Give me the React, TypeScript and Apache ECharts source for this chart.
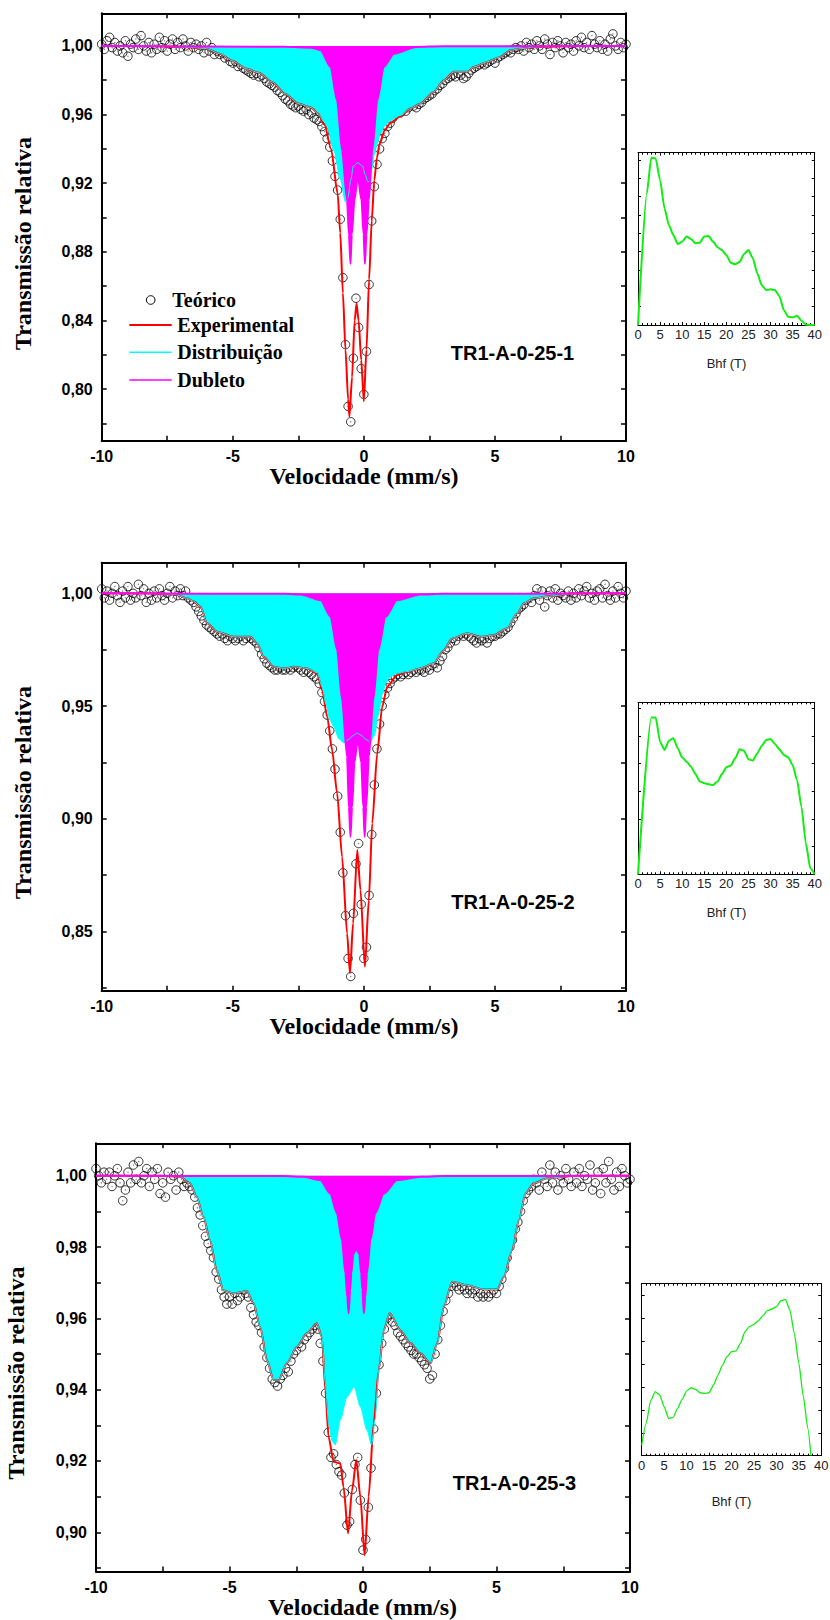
import React, { useEffect, useRef } from 'react';
import * as echarts from 'echarts';

// ---------------- data ----------------
// velocity channels of the folded spectra (mm/s)
const velStart = -10;
const velStep = 0.1;

// Panel 1 (TR1-A-0-25-1) measured points, one value per channel
const teorico1 = [
  1.001, 0.998, 1.003, 1.005, 0.999, 1.002, 0.997, 1.000, 0.996, 1.003,
  0.994, 1.001, 0.999, 1.004, 0.998, 1.006, 1.000, 0.997, 1.002, 0.996,
  1.001, 0.998, 1.005, 0.999, 1.003, 0.997, 1.001, 1.004, 0.998, 1.002,
  0.999, 1.004, 1.000, 0.997, 1.002, 0.999, 1.001, 0.998, 1.000, 0.996,
  1.002, 0.997, 0.999, 0.995, 0.997, 0.995, 0.996, 0.993, 0.994, 0.991,
  0.990, 0.991, 0.988, 0.989, 0.987, 0.986, 0.985, 0.984, 0.983, 0.984,
  0.982, 0.983, 0.981, 0.979, 0.978, 0.977, 0.976, 0.974, 0.973, 0.971,
  0.969, 0.968, 0.966, 0.965, 0.964, 0.965, 0.963, 0.962, 0.963, 0.960,
  0.961, 0.958, 0.957, 0.956, 0.953, 0.950, 0.946, 0.941, 0.933, 0.924,
  0.916, 0.899, 0.865, 0.826, 0.790, 0.781, 0.818, 0.853, 0.836, 0.812,
  0.797, 0.822, 0.861, 0.898, 0.918, 0.931, 0.940, 0.946, 0.949, 0.953,
  0.955, 0.958, 0.960, 0.962, 0.961, 0.963, 0.962, 0.964, 0.966, 0.965,
  0.964, 0.966, 0.967, 0.969, 0.970, 0.971, 0.972, 0.974, 0.975, 0.977,
  0.978, 0.980, 0.981, 0.982, 0.983, 0.982, 0.984, 0.983, 0.981, 0.982,
  0.984, 0.986, 0.987, 0.988, 0.989, 0.990, 0.989, 0.990, 0.991, 0.992,
  0.990, 0.993, 0.994, 0.995, 0.996, 0.997, 0.996, 0.998, 0.999, 0.998,
  1.000, 0.997, 1.002, 0.999, 1.001, 0.998, 1.003, 1.000, 0.998, 1.004,
  1.001, 0.995, 1.002, 0.999, 1.003, 1.000, 0.996, 1.002, 0.999, 1.001,
  0.997, 1.003, 1.000, 1.005, 0.999, 1.002, 0.998, 1.006, 1.001, 0.999,
  1.003, 0.998, 1.001, 0.997, 1.004, 1.007, 1.000, 0.998, 1.002, 0.999,
  1.001,
];
const experimental1: [number, number][] = [
  [-10, 1], [-8, 1], [-7, 0.9994], [-6.5, 0.999], [-6, 0.9984], [-5.5, 0.9955], [-5, 0.9913],
  [-4.5, 0.9868], [-4, 0.9843], [-3.5, 0.979], [-3, 0.972], [-2.5, 0.9664], [-2, 0.964],
  [-1.75, 0.9606], [-1.5, 0.954], [-1.25, 0.94], [-1.0, 0.914], [-0.9, 0.891], [-0.8, 0.856],
  [-0.7, 0.823], [-0.6, 0.794], [-0.55, 0.784], [-0.45, 0.807], [-0.35, 0.84], [-0.28, 0.85],
  [-0.2, 0.84], [-0.1, 0.817], [0, 0.793], [0.1, 0.823], [0.2, 0.864], [0.3, 0.898], [0.4, 0.922],
  [0.5, 0.935], [0.6, 0.943], [0.8, 0.951], [1.0, 0.955], [1.4, 0.959], [1.78, 0.9635],
  [2.16, 0.9664], [2.67, 0.9732], [3.05, 0.98], [3.44, 0.9849], [3.94, 0.9849], [4.2, 0.9878],
  [4.7, 0.9907], [5.2, 0.9936], [5.6, 0.9975], [6.0, 0.9984], [6.5, 0.9994], [8, 1], [10, 1],
];
const distribuicao1: [number, number][] = [
  [-10, 1], [-8, 1], [-7, 0.9994], [-6.5, 0.999], [-6, 0.9984], [-5.5, 0.9955], [-5, 0.9913],
  [-4.5, 0.9868], [-4, 0.9843], [-3.5, 0.979], [-3, 0.972], [-2.5, 0.9664], [-2, 0.964],
  [-1.75, 0.9606], [-1.5, 0.9555], [-1.4, 0.953], [-1.15, 0.939], [-0.89, 0.922], [-0.7, 0.909],
  [-0.6, 0.912], [-0.5, 0.922], [-0.4, 0.93], [-0.23, 0.932], [-0.05, 0.93], [0.05, 0.925],
  [0.15, 0.921], [0.22, 0.921], [0.3, 0.928], [0.4, 0.937], [0.5, 0.943], [0.64, 0.949],
  [0.8, 0.9535], [1.0, 0.9565], [1.4, 0.9595], [1.78, 0.9635], [2.16, 0.9664], [2.67, 0.9732],
  [3.05, 0.98], [3.44, 0.9849], [3.94, 0.9849], [4.2, 0.9878], [4.7, 0.9907], [5.2, 0.9936],
  [5.6, 0.9975], [6.0, 0.9984], [6.5, 0.9994], [8, 1], [10, 1],
];
const dubleto1: [number, number][] = [
  [-10, 1], [-3, 0.9995], [-2, 0.999], [-1.65, 0.9975], [-1.27, 0.9878], [-1.02, 0.968],
  [-0.83, 0.939], [-0.64, 0.91], [-0.57, 0.89], [-0.51, 0.873], [-0.46, 0.89], [-0.36, 0.91],
  [-0.23, 0.924], [-0.09, 0.91], [-0.01, 0.89], [0.04, 0.873], [0.1, 0.89], [0.19, 0.91],
  [0.32, 0.939], [0.51, 0.968], [0.76, 0.9878], [1.15, 0.9955], [2.0, 0.9994], [3, 0.9998], [10, 1],
];

// Panel 2 (TR1-A-0-25-2)
const teorico2 = [
  1.002, 0.998, 1.001, 0.997, 1.000, 1.003, 0.999, 0.996, 1.001, 0.998,
  1.003, 0.997, 1.000, 0.998, 1.004, 0.999, 1.002, 0.996, 1.000, 0.997,
  1.001, 0.998, 1.002, 0.999, 0.997, 1.000, 1.003, 0.998, 1.001, 0.999,
  1.002, 0.999, 1.001, 0.998, 0.997, 0.996, 0.994, 0.992, 0.990, 0.988,
  0.986, 0.985, 0.984, 0.983, 0.982, 0.981, 0.982, 0.980, 0.979, 0.981,
  0.980, 0.979, 0.980, 0.981, 0.979, 0.980, 0.981, 0.980, 0.979, 0.978,
  0.976, 0.973, 0.971, 0.969, 0.968, 0.967, 0.966, 0.966, 0.967, 0.966,
  0.966, 0.967, 0.966, 0.967, 0.968, 0.967, 0.966, 0.965, 0.966, 0.965,
  0.964, 0.963, 0.962, 0.960, 0.956, 0.952, 0.946, 0.939, 0.931, 0.922,
  0.910, 0.894, 0.876, 0.857, 0.838, 0.830, 0.858, 0.880, 0.889, 0.862,
  0.838, 0.843, 0.866, 0.893, 0.915, 0.931, 0.942, 0.950, 0.955, 0.958,
  0.960, 0.962, 0.963, 0.964, 0.963, 0.964, 0.965, 0.964, 0.965, 0.966,
  0.965, 0.966, 0.966, 0.965, 0.967, 0.966, 0.968, 0.969, 0.967, 0.970,
  0.972, 0.975, 0.976, 0.978, 0.980, 0.979, 0.981, 0.982, 0.981, 0.982,
  0.981, 0.980, 0.979, 0.978, 0.980, 0.979, 0.980, 0.978, 0.980, 0.981,
  0.981, 0.982, 0.982, 0.983, 0.984, 0.985, 0.987, 0.989, 0.991, 0.993,
  0.994, 0.995, 0.997, 0.998, 0.996, 0.999, 1.002, 0.997, 1.001, 0.994,
  0.999, 1.001, 0.998, 1.002, 0.997, 1.000, 0.999, 0.998, 1.001, 0.997,
  1.000, 0.998, 1.002, 0.999, 1.001, 1.003, 0.998, 1.000, 0.997, 1.001,
  1.002, 0.998, 1.004, 0.999, 0.997, 1.001, 0.998, 1.003, 1.000, 0.998,
  1.001,
];
const experimental2: [number, number][] = [
  [-10, 1], [-8, 1], [-7.2, 0.9995], [-6.74, 0.9978], [-6.5, 0.9965], [-6.23, 0.994],
  [-5.98, 0.9867], [-5.6, 0.983], [-4.96, 0.9807], [-4.33, 0.9807], [-4.07, 0.9778],
  [-3.82, 0.9719], [-3.44, 0.9674], [-3.05, 0.9667], [-2.67, 0.9674], [-2.16, 0.9667],
  [-1.78, 0.9645], [-1.59, 0.957], [-1.4, 0.9453], [-1.21, 0.9305], [-1.02, 0.9113],
  [-0.83, 0.8831], [-0.64, 0.8492], [-0.53, 0.8314], [-0.41, 0.8536], [-0.25, 0.8861],
  [-0.13, 0.8684], [0.04, 0.8343], [0.19, 0.8639], [0.32, 0.898], [0.51, 0.929], [0.7, 0.9497],
  [0.89, 0.9586], [1.27, 0.9638], [1.6, 0.965], [2.16, 0.9667], [2.67, 0.969], [3.05, 0.9748],
  [3.37, 0.98], [3.94, 0.9823], [4.45, 0.9807], [4.96, 0.9815], [5.47, 0.9845], [5.85, 0.9911],
  [6.11, 0.9956], [6.49, 0.9978], [7.1, 0.9988], [8, 1], [10, 1],
];
const distribuicao2: [number, number][] = [
  [-10, 1], [-8, 1], [-7.2, 0.9995], [-6.74, 0.9978], [-6.5, 0.9965], [-6.23, 0.994],
  [-5.98, 0.9867], [-5.6, 0.983], [-4.96, 0.9807], [-4.33, 0.9807], [-4.07, 0.9778],
  [-3.82, 0.9719], [-3.44, 0.9674], [-3.05, 0.9667], [-2.67, 0.9674], [-2.16, 0.9667],
  [-1.78, 0.9648], [-1.59, 0.9585], [-1.45, 0.951], [-1.3, 0.944], [-1.15, 0.9408],
  [-0.95, 0.9355], [-0.76, 0.9336], [-0.6, 0.935], [-0.4, 0.937], [-0.25, 0.938], [-0.1, 0.937],
  [0.1, 0.935], [0.25, 0.934], [0.4, 0.937], [0.55, 0.946], [0.7, 0.955], [0.85, 0.9605],
  [1.0, 0.963], [1.27, 0.9645], [1.6, 0.9652], [2.16, 0.9667], [2.67, 0.969], [3.05, 0.9748],
  [3.37, 0.98], [3.94, 0.9823], [4.45, 0.9807], [4.96, 0.9815], [5.47, 0.9845], [5.85, 0.9911],
  [6.11, 0.9956], [6.49, 0.9978], [7.1, 0.9988], [8, 1], [10, 1],
];
const dubleto2: [number, number][] = [
  [-10, 1], [-3, 0.9998], [-2.4, 0.9995], [-1.65, 0.997], [-1.27, 0.9896], [-1.02, 0.9748],
  [-0.83, 0.9527], [-0.64, 0.9275], [-0.57, 0.905], [-0.51, 0.892], [-0.45, 0.905], [-0.36, 0.925],
  [-0.23, 0.9357], [-0.1, 0.925], [-0.02, 0.905], [0.03, 0.892], [0.09, 0.905], [0.19, 0.9275],
  [0.36, 0.9527], [0.55, 0.9748], [0.83, 0.9896], [1.27, 0.997], [2.16, 0.9995], [3, 0.9998], [10, 1],
];

// Panel 3 (TR1-A-0-25-3)
const teorico3 = [
  1.002, 1.000, 0.998, 1.001, 0.999, 1.001, 0.997, 1.000, 1.002, 0.998,
  0.993, 0.996, 1.001, 0.998, 1.003, 0.999, 1.004, 0.998, 1.000, 1.002,
  0.997, 1.001, 0.999, 1.002, 0.995, 0.998, 0.994, 1.001, 0.999, 1.000,
  0.996, 1.001, 0.999, 0.997, 0.998, 0.997, 0.996, 0.994, 0.991, 0.989,
  0.986, 0.983, 0.981, 0.979, 0.977, 0.973, 0.971, 0.968, 0.966, 0.964,
  0.966, 0.964, 0.967, 0.965, 0.966, 0.968, 0.967, 0.966, 0.963, 0.961,
  0.959, 0.958, 0.956, 0.952, 0.949, 0.946, 0.943, 0.942, 0.941, 0.943,
  0.944, 0.946, 0.945, 0.948, 0.950, 0.951, 0.953, 0.952, 0.954, 0.955,
  0.956, 0.957, 0.958, 0.957, 0.953, 0.948, 0.939, 0.928, 0.921, 0.922,
  0.919, 0.917, 0.916, 0.911, 0.902, 0.903, 0.912, 0.919, 0.921, 0.909,
  0.895, 0.898, 0.907, 0.918, 0.929, 0.939, 0.947, 0.953, 0.957, 0.960,
  0.961, 0.959, 0.958, 0.956, 0.955, 0.954, 0.953, 0.952, 0.951, 0.950,
  0.950, 0.949, 0.948, 0.947, 0.946, 0.943, 0.944, 0.950, 0.954, 0.958,
  0.962, 0.965, 0.967, 0.969, 0.970, 0.969, 0.968, 0.969, 0.968, 0.967,
  0.968, 0.967, 0.968, 0.966, 0.967, 0.966, 0.967, 0.966, 0.967, 0.968,
  0.967, 0.969, 0.971, 0.974, 0.977, 0.980, 0.982, 0.985, 0.987, 0.990,
  0.993, 0.995, 0.996, 0.997, 0.999, 0.998, 0.996, 1.001, 0.999, 0.997,
  1.003, 0.998, 1.001, 0.996, 1.000, 0.998, 1.002, 0.999, 0.997, 1.001,
  0.998, 1.002, 0.997, 1.000, 0.999, 1.003, 0.996, 0.998, 1.001, 0.995,
  1.002, 0.998, 1.004, 0.999, 0.996, 1.001, 0.997, 1.002, 1.000, 0.998,
  0.999,
];
const experimental3: [number, number][] = [
  [-10, 1], [-7.5, 1], [-6.85, 0.9997], [-6.48, 0.9979], [-6.23, 0.9941], [-5.98, 0.9885],
  [-5.73, 0.982], [-5.48, 0.9735], [-5.23, 0.9679], [-4.85, 0.967], [-4.35, 0.9677], [-4.1, 0.9642],
  [-3.85, 0.9576], [-3.6, 0.9483], [-3.35, 0.9427], [-3.16, 0.9427], [-2.85, 0.9474], [-2.48, 0.952],
  [-2.1, 0.9558], [-1.73, 0.9586], [-1.54, 0.9548], [-1.41, 0.9399], [-1.29, 0.9268], [-1.1, 0.9198],
  [-0.85, 0.9193], [-0.73, 0.9128], [-0.56, 0.8997], [-0.41, 0.9118], [-0.25, 0.9203], [-0.1, 0.91],
  [0.06, 0.8936], [0.21, 0.91], [0.4, 0.9305], [0.59, 0.9455], [0.78, 0.9567], [1.0, 0.9614],
  [1.4, 0.9567], [1.78, 0.953], [2.15, 0.9502], [2.53, 0.9474], [2.78, 0.953], [3.03, 0.9633],
  [3.34, 0.9703], [3.9, 0.9693], [4.53, 0.9681], [5.03, 0.9681], [5.28, 0.9717], [5.59, 0.9792],
  [5.84, 0.9876], [6.09, 0.9951], [6.4, 0.9979], [6.9, 0.9993], [8, 1], [10, 1],
];
const distribuicao3: [number, number][] = [
  [-10, 1], [-7.5, 1], [-6.85, 0.9997], [-6.48, 0.9979], [-6.23, 0.9941], [-5.98, 0.9885],
  [-5.73, 0.982], [-5.48, 0.9735], [-5.23, 0.9679], [-4.85, 0.967], [-4.35, 0.9677], [-4.1, 0.9642],
  [-3.85, 0.9576], [-3.6, 0.9483], [-3.35, 0.9427], [-3.16, 0.9427], [-2.85, 0.9474], [-2.48, 0.952],
  [-2.1, 0.9558], [-1.73, 0.9586], [-1.54, 0.9548], [-1.41, 0.9418], [-1.29, 0.9305], [-1.15, 0.9255],
  [-1.04, 0.9245], [-0.85, 0.9315], [-0.6, 0.938], [-0.33, 0.9408], [-0.1, 0.9352], [0.15, 0.9287],
  [0.32, 0.9245], [0.45, 0.9315], [0.59, 0.9455], [0.78, 0.9567], [1.0, 0.9614],
  [1.4, 0.9567], [1.78, 0.953], [2.15, 0.9502], [2.53, 0.9474], [2.78, 0.953], [3.03, 0.9633],
  [3.34, 0.9703], [3.9, 0.9693], [4.53, 0.9681], [5.03, 0.9681], [5.28, 0.9717], [5.59, 0.9792],
  [5.84, 0.9876], [6.09, 0.9951], [6.4, 0.9979], [6.9, 0.9993], [8, 1], [10, 1],
];
const dubleto3: [number, number][] = [
  [-10, 1], [-3, 0.9999], [-2.2, 0.9997], [-1.6, 0.9988], [-1.23, 0.995], [-0.98, 0.9895],
  [-0.79, 0.982], [-0.66, 0.9726], [-0.59, 0.966], [-0.54, 0.9614], [-0.48, 0.968], [-0.44, 0.9726],
  [-0.36, 0.978], [-0.25, 0.9796], [-0.14, 0.978], [-0.07, 0.9726], [-0.02, 0.968], [0.03, 0.9614],
  [0.09, 0.966], [0.15, 0.9726], [0.28, 0.982], [0.46, 0.9895], [0.78, 0.995], [1.28, 0.9988],
  [2.15, 0.9997], [3, 0.9999], [10, 1],
];

// Hyperfine field distributions (Bhf in T, relative probability)
const bhf1: [number, number][] = [
  [0, 0], [2, 0.764], [3, 0.971], [4, 0.967], [5, 0.841], [6, 0.677], [7, 0.58], [8, 0.522],
  [9, 0.47], [10, 0.484], [11, 0.513], [12, 0.499], [13, 0.474], [14, 0.478], [15, 0.513],
  [16, 0.516], [17, 0.484], [18, 0.451], [19, 0.435], [20, 0.406], [21, 0.362], [22, 0.352],
  [23, 0.366], [24, 0.412], [25, 0.435], [26, 0.387], [27, 0.3], [28, 0.232], [29, 0.203],
  [30, 0.207], [31, 0.203], [32, 0.168], [33, 0.087], [34, 0.048], [35, 0.044], [36, 0.054],
  [37, 0.025], [38, 0.002], [39, 0], [40, 0],
];
const bhf2: [number, number][] = [
  [0, 0], [3, 0.911], [4, 0.911], [5, 0.771], [6, 0.723], [7, 0.777], [8, 0.791], [9, 0.733],
  [10, 0.68], [11, 0.655], [12, 0.626], [13, 0.583], [14, 0.539], [15, 0.529], [16, 0.523],
  [17, 0.519], [18, 0.539], [19, 0.583], [20, 0.622], [21, 0.632], [22, 0.674], [23, 0.727],
  [24, 0.719], [25, 0.669], [26, 0.661], [27, 0.703], [28, 0.746], [29, 0.781], [30, 0.787],
  [31, 0.758], [32, 0.727], [33, 0.694], [34, 0.68], [35, 0.636], [36, 0.548], [37, 0.393],
  [38, 0.18], [39, 0.035], [40, 0],
];
const bhf3: [number, number][] = [
  [0, 0.062], [1, 0.188], [2, 0.32], [3, 0.372], [4, 0.353], [5, 0.285], [6, 0.217], [7, 0.223],
  [8, 0.275], [9, 0.328], [10, 0.376], [11, 0.395], [12, 0.386], [13, 0.366], [14, 0.362],
  [15, 0.366], [16, 0.411], [17, 0.469], [18, 0.527], [19, 0.576], [20, 0.605], [21, 0.609],
  [22, 0.653], [23, 0.721], [24, 0.75], [25, 0.764], [26, 0.785], [27, 0.814], [28, 0.843],
  [29, 0.853], [30, 0.866], [31, 0.901], [32, 0.909], [33, 0.847], [34, 0.711], [35, 0.537],
  [36, 0.343], [37, 0.159], [37.7, 0],
];

const velTicks = [-10, -5, 0, 5, 10];
const bhfTicks = [0, 5, 10, 15, 20, 25, 30, 35, 40];
const legendLabels = ['Teórico', 'Experimental', 'Distribuição', 'Dubleto'];
const sampleNames = ['TR1-A-0-25-1', 'TR1-A-0-25-2', 'TR1-A-0-25-3'];
const xTitle = 'Velocidade (mm/s)';
const yTitle = 'Transmissão relativa';
const bhfTitle = 'Bhf (T)';

// ---------------- layout ----------------
const SERIF = '"Liberation Serif", "Times New Roman", serif';
const SANS = '"Liberation Sans", Arial, sans-serif';

const mainPanels = [
  { left: 101.7, top: 13.3, width: 524.3, height: 427.4, yMin: 0.770, yMax: 1.019, yStep: 0.02, labelStep: 0.04,
    sc: teorico1, fit: experimental1, dist: distribuicao1, doub: dubleto1,
    tag: [512.5, 352.7], xt: [364, 476], yt: [23.3, 243.5] },
  { left: 101.7, top: 562.7, width: 524.3, height: 428, yMin: 0.8237, yMax: 1.0136, yStep: 0.025, labelStep: 0.05,
    sc: teorico2, fit: experimental2, dist: distribuicao2, doub: dubleto2,
    tag: [513, 901.7], xt: [364, 1026], yt: [23.3, 792.5] },
  { left: 96, top: 1143.3, width: 534, height: 428.2, yMin: 0.889, yMax: 1.0091, yStep: 0.01, labelStep: 0.02,
    sc: teorico3, fit: experimental3, dist: distribuicao3, doub: dubleto3,
    tag: [514.5, 1482.7], xt: [362.5, 1606.5], yt: [16, 1373] },
];
const insets = [
  { left: 638, top: 152.7, width: 176.7, height: 172.3, yTick: 0.1064, data: bhf1, lw: 2, title: [726.5, 363.3] },
  { left: 638, top: 702.3, width: 176.7, height: 172, yTick: 0.161, data: bhf2, lw: 2, title: [726.5, 912] },
  { left: 641.7, top: 1283.7, width: 179.6, height: 172, yTick: 0.133, data: bhf3, lw: 1.3, title: [731.5, 1501] },
];

function commaFmt(step: number) {
  return (v: number) => {
    const k = Math.round(v / step);
    return Math.abs(v - k * step) < 1e-7 ? v.toFixed(2).replace('.', ',') : '';
  };
}

function buildOption() {
  const grid: any[] = [];
  const xAxis: any[] = [];
  const yAxis: any[] = [];
  const series: any[] = [];
  const graphic: any[] = [];

  mainPanels.forEach((p, i) => {
    grid.push({ left: p.left, top: p.top, width: p.width, height: p.height, containLabel: false, outerBoundsMode: 'none' });
    const line = { show: true, onZero: false, lineStyle: { color: '#000', width: 2 } };
    const tick = { show: true, inside: true, length: 5, lineStyle: { color: '#000', width: 1.5 } };
    const xBase = { type: 'value', gridIndex: i, min: velTicks[0], max: velTicks[velTicks.length - 1], interval: 2.5,
      axisLine: line, axisTick: tick, splitLine: { show: false } };
    xAxis.push({ ...xBase, position: 'bottom',
      axisLabel: { margin: 8, fontSize: 16, fontWeight: 'bold', fontFamily: SANS, color: '#000',
        formatter: (v: number) => (velTicks.some((t) => Math.abs(t - v) < 1e-9) ? String(v) : '') } });
    xAxis.push({ ...xBase, position: 'top', axisLabel: { show: false } });
    const yBase = { type: 'value', gridIndex: i, min: p.yMin, max: p.yMax, minInterval: p.yStep, maxInterval: p.yStep,
      splitNumber: 10, axisLine: line, axisTick: tick, splitLine: { show: false } };
    yAxis.push({ ...yBase, position: 'left',
      axisLabel: { margin: 9, fontSize: 16, fontWeight: 'bold', fontFamily: SANS, color: '#000', formatter: commaFmt(p.labelStep) } });
    yAxis.push({ ...yBase, position: 'right', axisLabel: { show: false } });

    const ax = { xAxisIndex: 2 * i, yAxisIndex: 2 * i };
    const pts = p.sc.map((v, k) => [Number((velStart + k * velStep).toFixed(2)), v]);
    series.push({ type: 'scatter', ...ax, data: pts, symbol: 'circle', symbolSize: 8.5, silent: true,
      itemStyle: { color: 'rgba(255,255,255,0)', borderColor: '#000', borderWidth: 1 } });
    series.push({ type: 'scatter', ...ax, data: pts, symbol: 'circle', symbolSize: 1.3, silent: true,
      itemStyle: { color: '#555' } });
    series.push({ type: 'line', ...ax, data: p.fit, symbol: 'none', smooth: 0.25, smoothMonotone: 'x',
      lineStyle: { color: '#ff0000', width: 2 } });
    series.push({ type: 'line', ...ax, data: p.dist, symbol: 'none', smooth: 0.25, smoothMonotone: 'x',
      lineStyle: { color: '#00ffff', width: 1 }, areaStyle: { color: '#00ffff', opacity: 1, origin: 1 } });
    series.push({ type: 'line', ...ax, data: p.doub, symbol: 'none', smooth: 0.25, smoothMonotone: 'x',
      lineStyle: { color: '#ff00ff', width: 2 }, areaStyle: { color: '#ff00ff', opacity: 1, origin: 1 } });

    graphic.push({ type: 'text', x: p.xt[0], y: p.xt[1], silent: true,
      style: { text: xTitle, fill: '#000', font: `bold 24px ${SERIF}`, align: 'center', verticalAlign: 'middle', textAlign: 'center', textVerticalAlign: 'middle' } });
    graphic.push({ type: 'text', x: p.yt[0], y: p.yt[1], rotation: Math.PI / 2, silent: true,
      style: { text: yTitle, fill: '#000', font: `bold 24px ${SERIF}`, align: 'center', verticalAlign: 'middle', textAlign: 'center', textVerticalAlign: 'middle' } });
    graphic.push({ type: 'text', x: p.tag[0], y: p.tag[1], silent: true,
      style: { text: sampleNames[i], fill: '#000', font: `bold 20px ${SANS}`, align: 'center', verticalAlign: 'middle', textAlign: 'center', textVerticalAlign: 'middle' } });
  });

  insets.forEach((q, j) => {
    const gi = mainPanels.length + j;
    grid.push({ left: q.left, top: q.top, width: q.width, height: q.height, containLabel: false, outerBoundsMode: 'none' });
    const line = { show: true, onZero: false, lineStyle: { color: '#000', width: 1 } };
    const tick = { show: true, inside: true, length: 3, lineStyle: { color: '#000', width: 1 } };
    const minor = { show: true, splitNumber: 5, length: 2, lineStyle: { color: '#000', width: 1 } };
    const xBase = { type: 'value', gridIndex: gi, min: bhfTicks[0], max: bhfTicks[bhfTicks.length - 1], interval: 5,
      axisLine: line, axisTick: tick, minorTick: minor, splitLine: { show: false }, minorSplitLine: { show: false } };
    xAxis.push({ ...xBase, position: 'bottom',
      axisLabel: { margin: 3, fontSize: 13, fontFamily: SANS, color: '#222' } });
    xAxis.push({ ...xBase, position: 'top', axisLabel: { show: false } });
    const yBase = { type: 'value', gridIndex: gi, min: 0, max: 1, interval: q.yTick,
      axisLine: line, axisTick: tick, splitLine: { show: false }, axisLabel: { show: false } };
    yAxis.push({ ...yBase, position: 'left' });
    yAxis.push({ ...yBase, position: 'right' });
    series.push({ type: 'line', xAxisIndex: 2 * gi, yAxisIndex: 2 * gi, data: q.data, symbol: 'none',
      smooth: 0.2, smoothMonotone: 'x', lineStyle: { color: '#11ee11', width: q.lw } });
    graphic.push({ type: 'text', x: q.title[0], y: q.title[1], silent: true,
      style: { text: bhfTitle, fill: '#222', font: `13px ${SANS}`, align: 'center', verticalAlign: 'middle', textAlign: 'center', textVerticalAlign: 'middle' } });
  });

  // legend of panel 1
  const lf = `bold 20px ${SERIF}`;
  graphic.push({ type: 'circle', silent: true, shape: { cx: 150.7, cy: 300, r: 4.3 },
    style: { fill: 'none', stroke: '#000', lineWidth: 1 } });
  graphic.push({ type: 'text', x: 172.3, y: 300, silent: true,
    style: { text: legendLabels[0], fill: '#000', font: lf, verticalAlign: 'middle', textVerticalAlign: 'middle' } });
  const legendRows: [string, number, number, number][] = [
    ['#ff0000', 325, 2, 1], ['#00ffff', 352.3, 1.5, 2], ['#ff00ff', 380, 1.5, 3],
  ];
  legendRows.forEach(([c, y, w, li]) => {
    graphic.push({ type: 'line', silent: true, shape: { x1: 129.3, y1: y, x2: 171.7, y2: y },
      style: { stroke: c, lineWidth: w } });
    graphic.push({ type: 'text', x: 177.3, y, silent: true,
      style: { text: legendLabels[li], fill: '#000', font: lf, verticalAlign: 'middle', textVerticalAlign: 'middle' } });
  });

  return { animation: false, backgroundColor: '#ffffff', grid, xAxis, yAxis, series, graphic };
}

export default function App() {
  const ref = useRef<HTMLDivElement>(null);
  useEffect(() => {
    if (!ref.current) return;
    const chart = echarts.init(ref.current, undefined, { renderer: 'svg' });
    chart.setOption(buildOption() as any);
    return () => chart.dispose();
  }, []);
  return (
    <div
      ref={ref}
      style={{ position: 'absolute', left: 0, top: 0, width: 830, height: 1620, background: '#fff' }}
    />
  );
}
